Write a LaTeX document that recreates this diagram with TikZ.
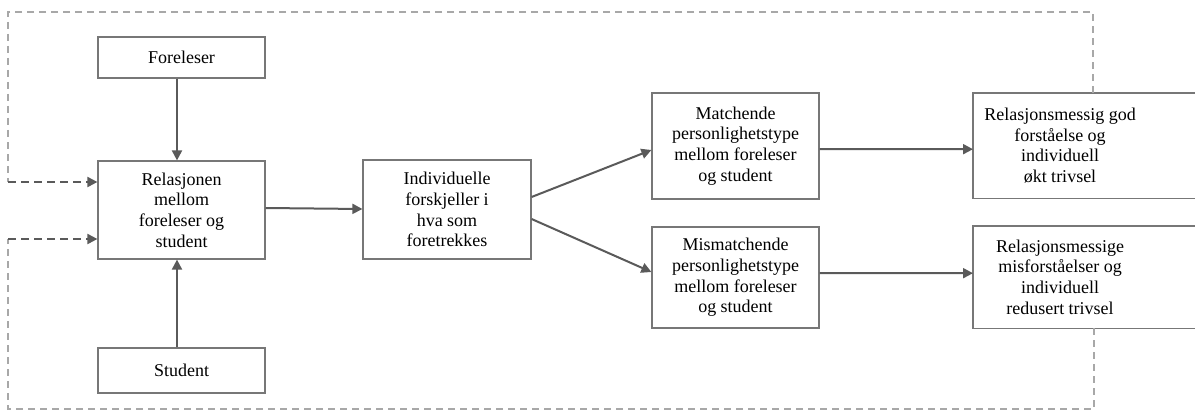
\documentclass[tikz,border=0pt]{standalone}
\usepackage{fontspec}
\setmainfont{Liberation Serif}
\usetikzlibrary{arrows.meta}
\definecolor{boxline}{HTML}{777777}
\definecolor{arrowgray}{HTML}{5A5A5A}
\definecolor{loopgray}{HTML}{A8A8A8}
\tikzset{
  box/.style={draw=boxline, line width=1.2pt, rectangle, inner sep=0pt,
    align=center, font=\fontsize{18}{20.7}\selectfont},
  openbox/.style={rectangle, inner sep=0pt, anchor=north west, minimum width=300pt},
  openedge/.style={draw=boxline, line width=1.2pt},
  txt/.style={align=center, inner sep=0pt, font=\fontsize{18}{20.7}\selectfont},
  flow/.style={draw=arrowgray, line width=2pt,
    -{Triangle[length=10pt,width=10pt]}},
  feedback/.style={draw=arrowgray, line width=2pt, dash pattern=on 8pt off 5pt,
    -{Triangle[length=10pt,width=10pt]}},
  loopline/.style={draw=loopgray, line width=1.3pt, dash pattern=on 7pt off 5pt}
}
\begin{document}
\begin{tikzpicture}[x=1pt,y=-1pt]
\useasboundingbox (0,0) rectangle (1195,412);
\clip (0,0) rectangle (1195,412);
\fill[white] (0,0) rectangle (1195,412);

% left column
\node[box, minimum width=167pt, minimum height=41pt] (fore) at (181.5,57.5) {Foreleser};
\node[box, minimum width=167pt, minimum height=98pt] (rel) at (181.5,210) {Relasjonen\\mellom\\foreleser og\\student};
\node[box, minimum width=167pt, minimum height=45pt] (stud) at (181.5,370.5) {Student};

% middle
\node[box, minimum width=168pt, minimum height=99pt] (ind) at (447,209.5) {Individuelle\\forskjeller i\\hva som\\foretrekkes};

% personality match / mismatch
\node[box, minimum width=167pt, minimum height=106pt] (match) at (735.5,146) {Matchende\\personlighetstype\\mellom foreleser\\og student};
\node[box, minimum width=167pt, minimum height=101pt] (mis) at (735.5,277.5) {Mismatchende\\personlighetstype\\mellom foreleser\\og student};

% outcomes: boxes open towards the right edge
\node[openbox, minimum height=105pt] (god) at (973,93) {};
\node[txt] (godt) at (1060,145.5) {Relasjonsmessig god\\forståelse og\\individuell\\økt trivsel};
\node[openbox, minimum height=102pt] (bad) at (973,226) {};
\node[txt] (badt) at (1060,277) {Relasjonsmessige\\misforståelser og\\individuell\\redusert trivsel};
\draw[openedge] (god.north east) -- (god.north west) -- (god.south west) -- (god.south east);
\draw[openedge] (bad.north east) -- (bad.north west) -- (bad.south west) -- (bad.south east);

% main flow
\draw[flow] ([xshift=-4.5pt]fore.south) -- ([xshift=-4.5pt]rel.north);
\draw[flow] ([xshift=-4.5pt]stud.north) -- ([xshift=-4.5pt]rel.south);
\draw[flow] ([yshift=2pt]rel.east) -- ([yshift=0.5pt]ind.west);
\draw[flow] ([yshift=12.5pt]ind.east) -- ([yshift=-4pt]match.west);
\draw[flow] ([yshift=-9.5pt]ind.east) -- ([yshift=5.5pt]mis.west);
\draw[flow] ([yshift=-3pt]match.east) -- ([yshift=-3.5pt]god.west);
\draw[flow] ([yshift=4.5pt]mis.east) -- ([yshift=4pt]bad.west);

% feedback loops back to the relation
\coordinate (tr) at (1093,12);
\coordinate (tl) at (8,12);
\coordinate (ul) at (8,182);
\coordinate (br) at (1094,409);
\coordinate (bl) at (8,409);
\coordinate (ll) at (8,239);
\draw[loopline] (god.north -| tr) -- (tr) -- (tl) -- (ul);
\draw[feedback] (ul) -- (rel.west |- ul);
\draw[loopline] (bad.south -| br) -- (br) -- (bl) -- (ll);
\draw[feedback] (ll) -- (rel.west |- ll);
\end{tikzpicture}
\end{document}
